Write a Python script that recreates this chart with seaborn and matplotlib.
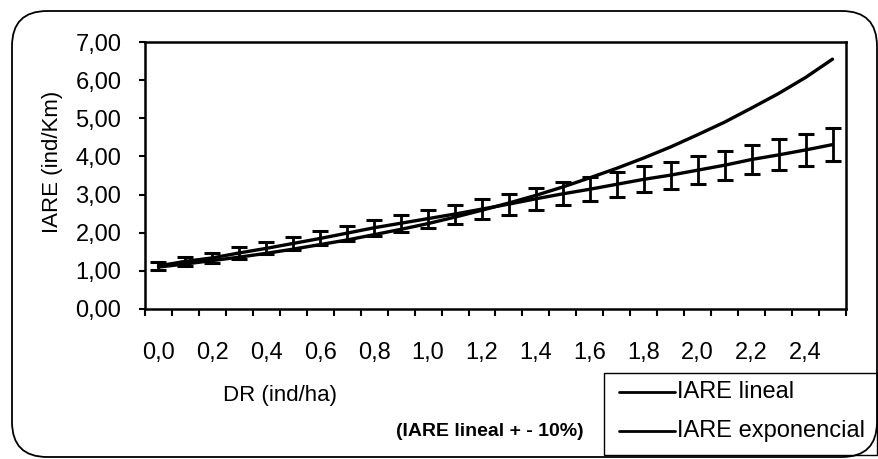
import matplotlib
matplotlib.use("Agg")
import matplotlib.pyplot as plt
from matplotlib.patches import FancyBboxPatch, Rectangle
from matplotlib.lines import Line2D
import seaborn as sns
import pandas as pd

# ---- data ----
dr = [0.0, 0.1, 0.2, 0.3, 0.4, 0.5, 0.6, 0.7, 0.8, 0.9, 1.0, 1.1, 1.2,
      1.3, 1.4, 1.5, 1.6, 1.7, 1.8, 1.9, 2.0, 2.1, 2.2, 2.3, 2.4, 2.5]
iare_lineal = [1.13, 1.25, 1.34, 1.47, 1.59, 1.72, 1.85, 1.99, 2.13, 2.25,
               2.37, 2.49, 2.62, 2.75, 2.89, 3.02, 3.14, 3.27, 3.40, 3.51,
               3.64, 3.77, 3.92, 4.04, 4.17, 4.31]
iare_exponencial = [1.10, 1.18, 1.27, 1.36, 1.46, 1.57, 1.69, 1.81, 1.95,
                    2.09, 2.24, 2.41, 2.59, 2.78, 2.98, 3.20, 3.44, 3.69,
                    3.96, 4.25, 4.57, 4.90, 5.27, 5.65, 6.07, 6.55]
error_pct = 0.10
x_tick_labels = ["0,0", "0,2", "0,4", "0,6", "0,8", "1,0", "1,2", "1,4",
                 "1,6", "1,8", "2,0", "2,2", "2,4"]
y_ticks = [0, 1, 2, 3, 4, 5, 6, 7]
y_tick_labels = ["0,00", "1,00", "2,00", "3,00", "4,00", "5,00", "6,00", "7,00"]
legend_labels = ["IARE lineal", "IARE exponencial"]

df = pd.DataFrame({"DR": dr, "lineal": iare_lineal, "exponencial": iare_exponencial})

sns.set_theme(style="white")
plt.rcParams["font.family"] = ["Liberation Sans", "DejaVu Sans"]

W, H = 879, 459
fig = plt.figure(figsize=(W / 100, H / 100), dpi=100)
fig.patch.set_facecolor("white")

def fx(px):
    return px / W

def fy(py):
    return 1 - py / H

ax = fig.add_axes([fx(145), fy(309), fx(846) - fx(145), fy(42) - fy(309)])
ax.set_facecolor("white")

lw = 2.4
sns.lineplot(data=df, x="DR", y="exponencial", ax=ax, color="black", lw=lw)
sns.lineplot(data=df, x="DR", y="lineal", ax=ax, color="black", lw=lw)
err = [v * error_pct for v in iare_lineal]
ax.errorbar(dr, iare_lineal, yerr=err, fmt="none", ecolor="black",
            elinewidth=2.0, capsize=5.5, capthick=2.2)

ax.set_xlim(-0.05, 2.55)
ax.set_ylim(0, 7)
ax.set_xlabel("")
ax.set_ylabel("")

# major ticks at category boundaries, labels at every other category
bounds = [-0.05 + 0.1 * k for k in range(27)]
ax.set_xticks(bounds)
ax.set_xticklabels([])
ax.set_xticks(dr[::2], x_tick_labels, minor=True)
ax.tick_params(axis="x", which="major", direction="out", length=5, width=1.5,
               color="black", bottom=True)
ax.tick_params(axis="x", which="minor", length=0, pad=24, labelsize=17,
               labelcolor="black")
ax.set_yticks(y_ticks, y_tick_labels)
ax.tick_params(axis="y", direction="out", length=4, width=1.5, color="black",
               left=True, pad=13, labelsize=17, labelcolor="black")

for s in ax.spines.values():
    s.set_visible(True)
    s.set_color("black")
    s.set_linewidth(1.8)

# axis titles
fig.text(fx(53), fy(162), "IARE (ind/Km)", rotation=90, ha="center",
         va="center", fontsize=16, color="black")
fig.text(fx(280), fy(395), "DR (ind/ha)", ha="center", va="center",
         fontsize=16, color="black")
fig.text(fx(490), fy(431), "(IARE lineal + - 10%)", ha="center", va="center",
         fontsize=14, fontweight="bold", color="black")

# legend box
fig.patches.append(Rectangle((fx(604), fy(455)), fx(877) - fx(604),
                             fy(373) - fy(455), transform=fig.transFigure,
                             facecolor="white", edgecolor="black", lw=1.0))
for i, lab in enumerate(legend_labels):
    yy = [392, 431][i]
    fig.lines.append(Line2D([fx(619), fx(675)], [fy(yy), fy(yy)],
                            transform=fig.transFigure, color="black", lw=2.0))
    fig.text(fx(677), fy(yy), lab, ha="left", va="center", fontsize=17,
             color="black")

# rounded outer frame
fig.patches.append(FancyBboxPatch((fx(12), fy(457)), fx(877) - fx(12),
                                  fy(11) - fy(457),
                                  boxstyle="round,pad=0,rounding_size=0.04",
                                  transform=fig.transFigure, facecolor="none",
                                  edgecolor="black", lw=1.3,
                                  mutation_aspect=W / H))

fig.savefig("out.png", dpi=100, facecolor="white")
